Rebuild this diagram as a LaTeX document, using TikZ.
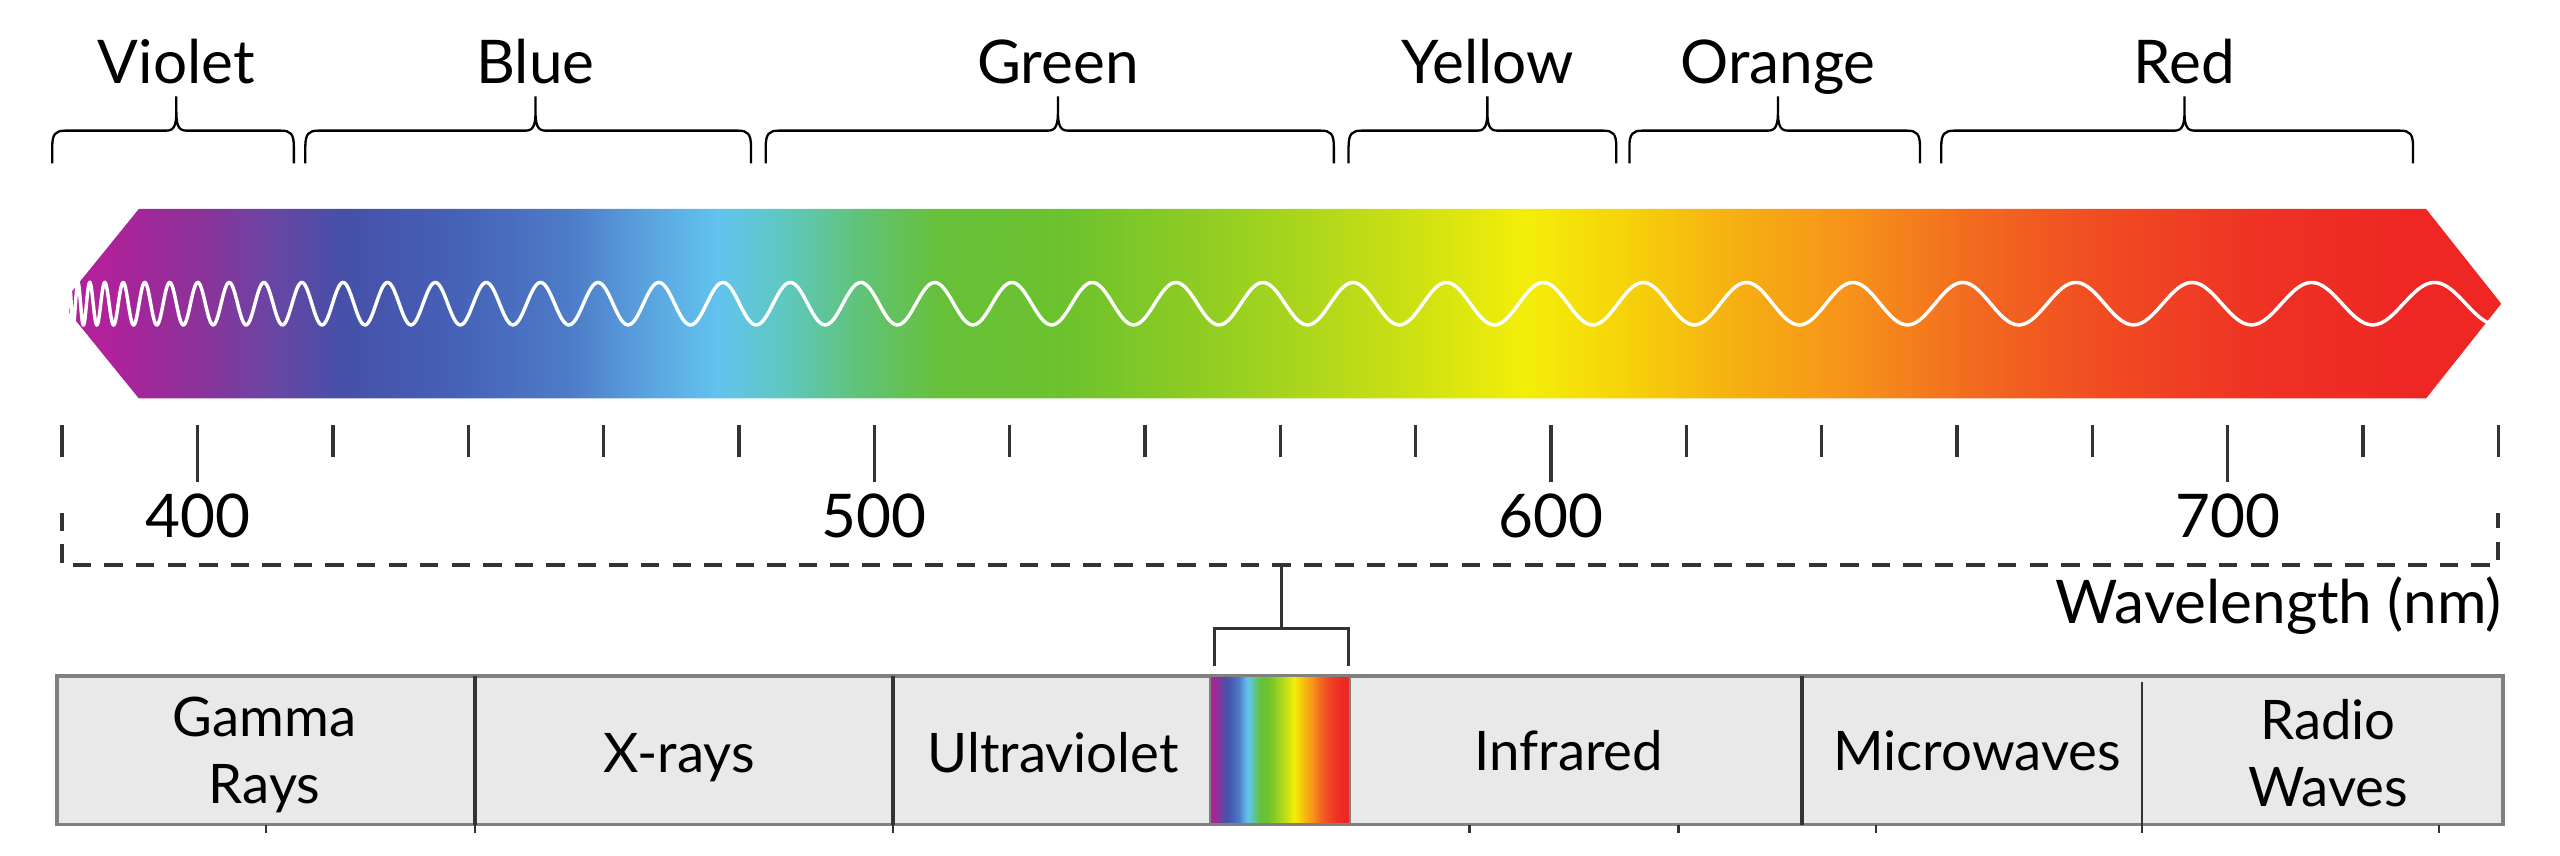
\documentclass[tikz,border=0pt]{standalone}
\usepackage{fontspec}
\setmainfont{Lato}
\usepackage{tikz}
\usetikzlibrary{positioning}

\definecolor{sp01}{HTML}{B0219A}
\definecolor{sp02}{HTML}{8A3399}
\definecolor{sp03}{HTML}{6A45A3}
\definecolor{sp04}{HTML}{4650A8}
\definecolor{sp05}{HTML}{4560B6}
\definecolor{sp06}{HTML}{4E7CC8}
\definecolor{sp07}{HTML}{5BA6E0}
\definecolor{sp08}{HTML}{62C3EE}
\definecolor{sp09}{HTML}{5EC8C0}
\definecolor{sp10}{HTML}{60C37A}
\definecolor{sp11}{HTML}{67C03A}
\definecolor{sp12}{HTML}{6CC22E}
\definecolor{sp13}{HTML}{8ACB24}
\definecolor{sp14}{HTML}{A5D41E}
\definecolor{sp15}{HTML}{CAE014}
\definecolor{sp16}{HTML}{F3EE09}
\definecolor{sp17}{HTML}{F6D30A}
\definecolor{sp18}{HTML}{F6B112}
\definecolor{sp19}{HTML}{F7921A}
\definecolor{sp20}{HTML}{F26A20}
\definecolor{sp21}{HTML}{F04D22}
\definecolor{sp22}{HTML}{EE3224}
\definecolor{sp23}{HTML}{EE2624}
\definecolor{barfill}{HTML}{E9E9E9}
\definecolor{inkgrey}{HTML}{333333}

\pgfdeclarehorizontalshading{spectrum}{100bp}{color(0bp)=(sp01); color(25bp)=(sp01);
  color(25.90bp)=(sp01); color(27.91bp)=(sp02); color(29.25bp)=(sp03); color(30.76bp)=(sp04);
  color(32.93bp)=(sp05); color(35.44bp)=(sp06); color(37.12bp)=(sp07); color(38.45bp)=(sp08);
  color(39.79bp)=(sp09); color(41.30bp)=(sp10); color(42.97bp)=(sp11); color(45.48bp)=(sp12);
  color(47.99bp)=(sp13); color(49.97bp)=(sp14); color(52.48bp)=(sp15); color(54.99bp)=(sp16);
  color(57.00bp)=(sp17); color(59.17bp)=(sp18); color(61.68bp)=(sp19); color(64.19bp)=(sp20);
  color(66.70bp)=(sp21); color(70.05bp)=(sp22); color(73.39bp)=(sp23); color(75bp)=(sp23);
  color(100bp)=(sp23)}

\begin{document}
\begin{tikzpicture}[x=0.1mm, y=-0.1mm,
    toplabel/.style={font=\fontsize{10.5}{12}\selectfont, inner sep=0pt},
    celllabel/.style={font=\fontsize{9.5}{11.7}\selectfont, align=center, inner sep=0pt},
    braceline/.style={line width=0.4pt, black},
    tickline/.style={line width=0.6pt, inkgrey},
    axisline/.style={line width=0.6pt, inkgrey, dash pattern=on 3.2pt off 2.3pt}]

\useasboundingbox (0,0) rectangle (1568,524);

% colour names and braces
\foreach \a/\m/\b/\name in {32/108/180/Violet, 187/328/460/Blue, 469/648/817/Green,
    826/911/990/Yellow, 998/1089/1176/Orange, 1189/1338/1478/Red}{
    \draw[braceline] (\a,100) -- (\a,90) .. controls (\a,82) and (\a+2,80) .. (\a+8,80)
        -- (\m-6,80) .. controls (\m-1,80) and (\m,76) .. (\m,68) -- (\m,59)
        -- (\m,68) .. controls (\m,76) and (\m+1,80) .. (\m+6,80)
        -- (\b-8,80) .. controls (\b-2,80) and (\b,82) .. (\b,90) -- (\b,100);
    \node[toplabel, anchor=base] (lbl\name) at (\m,51) {\name};
};

% the band
\shade[shading=spectrum] (38,186) -- (85,128) -- (1486,128) -- (1532,186)
    -- (1486,244) -- (85,244) -- cycle;
\draw[white, line width=0.6pt] plot[domain=0:38.65, samples=1500, variable=\s]
    ({38+\s*\s},{186-13*cos(360*(\s-0.12))});

% scale
\foreach \nm in {380,420,440,460,480,520,540,560,580,620,640,660,680,720,740}{
    \draw[tickline] ({121+(\nm-400)*4.145},260) -- ++(0,20);
};
\foreach \nm in {400,500,600,700}{
    \draw[tickline] ({121+(\nm-400)*4.145},260) -- ++(0,35);
    \node[toplabel, anchor=base] (num\nm) at ({121+(\nm-400)*4.145},329) {\nm};
};

\draw[axisline] (38,314) -- (38,346) -- (1530,346) -- (1530,314);
\node[toplabel, anchor=base east] (wlabel) at (1533,382) {Wavelength (nm)};

% whole spectrum bar
\draw[line width=0.6pt, gray, fill=barfill] (35,414) rectangle (1533,505);
\shade[shading=spectrum] (741,414) rectangle (827,505);
\draw[line width=0.4pt, gray] (741,414) rectangle (827,505);
\foreach \x in {291,547,1104}{
    \draw[line width=0.7pt, inkgrey] (\x,414) -- (\x,505);
};
\draw[line width=0.4pt, inkgrey] (1312,418) -- (1312,505);
\foreach \x in {163,291,547,900,1028,1149,1312,1494}{
    \draw[line width=0.4pt, inkgrey] (\x,505) -- (\x,510);
};

\coordinate (stemtop) at (785,346);
\coordinate (stembot) at (785,385);
\draw[tickline] (stemtop) -- (stembot);
\draw[tickline] (744,408) -- (744,385) -- (826,385) -- (826,408);

\node[celllabel, anchor=base] (gamma) at (162,492) {Gamma\\Rays};
\node[celllabel, anchor=base] (xrays) at (416,473) {X-rays};
\node[celllabel, anchor=base] (uv) at (645,473) {Ultraviolet};
\node[celllabel, anchor=base] (ir) at (961,472) {Infrared};
\node[celllabel, anchor=base] (micro) at (1211,472) {Microwaves};
\node[celllabel, anchor=base] (radio) at (1426,494) {Radio\\Waves};

\end{tikzpicture}
\end{document}
